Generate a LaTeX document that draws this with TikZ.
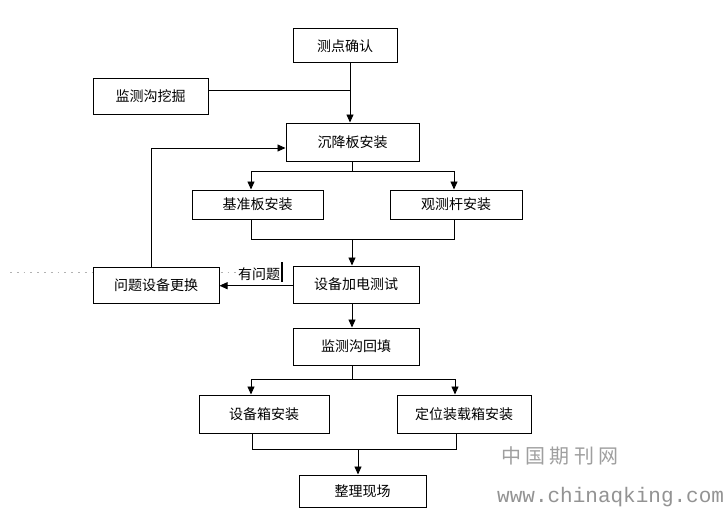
\documentclass[tikz,border=0pt]{standalone}
\usepackage{fontspec}
\usetikzlibrary{arrows.meta}
\newfontfamily\cjk{Noto Sans CJK SC}
\newfontfamily\wmcjk[LetterSpace=22]{Noto Sans CJK SC}
\newfontfamily\wmmono{Liberation Mono}
\begin{document}
\begin{tikzpicture}[x=1pt,y=-1pt,
  box/.style={draw=black, line width=1pt, fill=white, rectangle, inner sep=0pt,
    font=\cjk\fontsize{14}{16}\selectfont},
  conn/.style={draw=black, line width=0.9pt},
  arr/.style={conn, -{Triangle[length=8pt,width=7pt]}}]
\useasboundingbox[fill=white] (0,0) rectangle (727,516);
% dotted line
\draw[gray!60, line width=1.8pt, dash pattern=on 1.8pt off 5pt] (10,272.5) -- (236,272.5);
% nodes
\node[box, minimum width=104pt, minimum height=34pt] (n1) at (345,46) {测点确认};
\node[box, minimum width=115pt, minimum height=35pt] (n2) at (150.5,96.5) {监测沟挖掘};
\node[box, minimum width=133pt, minimum height=38pt] (n3) at (352.5,142) {沉降板安装};
\node[box, minimum width=131pt, minimum height=29pt] (n4) at (257.5,204.5) {基准板安装};
\node[box, minimum width=132pt, minimum height=29pt] (n5) at (456,204.5) {观测杆安装};
\node[box, minimum width=126pt, minimum height=37pt] (n6) at (356,284.5) {设备加电测试};
\node[box, minimum width=126pt, minimum height=36pt] (n7) at (156,285) {问题设备更换};
\node[box, minimum width=126pt, minimum height=37pt] (n8) at (356,346.5) {监测沟回填};
\node[box, minimum width=130pt, minimum height=38pt] (n9) at (264,414) {设备箱安装};
\node[box, minimum width=134pt, minimum height=38pt] (n10) at (464,414) {定位装载箱安装};
\node[box, minimum width=127pt, minimum height=32pt] (n11) at (362.5,491) {整理现场};
% junction coordinates
\coordinate (x350) at (350,0);
\coordinate (x352) at (352,0);
\coordinate (j1) at (350,90);
\coordinate (b1) at (352,171);
\coordinate (b1l) at (251,171);
\coordinate (b1r) at (454,171);
\coordinate (m1) at (352,239);
\coordinate (m1l) at (251,239);
\coordinate (m1r) at (454,239);
\coordinate (fb) at (151,148);
\coordinate (b2) at (352,379);
\coordinate (b2l) at (251,379);
\coordinate (b2r) at (455,379);
\coordinate (m2) at (358,449);
\coordinate (m2l) at (252,449);
\coordinate (m2r) at (456,449);
\coordinate (ay) at (0,285.7);
% connectors
\draw[arr] (n1.south -| x350) -- (n3.north -| x350);
\draw[conn] (n2.east |- j1) -- (j1);
\draw[conn] (n3.south -| b1) -- (b1);
\draw[conn] (b1l) -- (b1r);
\draw[arr] (b1l) -- (n4.north -| b1l);
\draw[arr] (b1r) -- (n5.north -| b1r);
\draw[conn] (n4.south -| m1l) -- (m1l) -- (m1r) -- (n5.south -| m1r);
\draw[arr] (m1) -- (n6.north -| m1);
\draw[arr] (n6.west |- ay) -- (n7.east |- ay);
\draw[arr] (n7.north -| fb) -- (fb) -- (n3.west |- fb);
\draw[arr] (n6.south -| x352) -- (n8.north -| x352);
\draw[conn] (n8.south -| b2) -- (b2);
\draw[conn] (b2l) -- (b2r);
\draw[arr] (b2l) -- (n9.north -| b2l);
\draw[arr] (b2r) -- (n10.north -| b2r);
\draw[conn] (n9.south -| m2l) -- (m2l) -- (m2r) -- (n10.south -| m2r);
\draw[arr] (m2) -- (n11.north -| m2);
% label and cursor bar
\node[font=\cjk\fontsize{14}{16}\selectfont, inner sep=0pt, anchor=west] (lbl) at (238,274) {有问题};
\draw[line width=2pt] (282,262) -- (282,282);
% watermark
\node[font=\wmcjk\fontsize{20}{22}\selectfont, text=gray!75, inner sep=0pt, anchor=west] (wm1) at (501,456) {中国期刊网};
\node[font=\wmmono\fontsize{21}{23}\selectfont, text=gray!85, inner sep=0pt, anchor=west] (wm2) at (497,497) {www.chinaqking.com};
\end{tikzpicture}
\end{document}
